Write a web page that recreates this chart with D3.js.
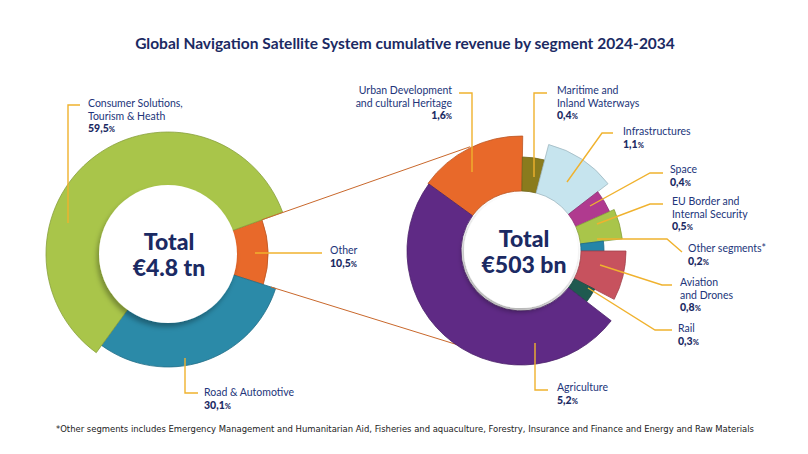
<!DOCTYPE html>
<html>
<head>
<meta charset="utf-8">
<script src="https://cdn.jsdelivr.net/npm/d3@7"></script>
<style>
  body { margin: 0; background: #fff; }
</style>
</head>
<body>
<div id="chart"></div>
<script>
// data
var mainSegments = ["Other", "Road & Automotive", "Consumer Solutions, Tourism & Heath"];
var mainShares = [10.5, 30.1, 59.5];

var otherSegments = ["Urban Development and cultural Heritage", "Maritime and Inland Waterways", "Infrastructures",
  "Space", "EU Border and Internal Security", "Other segments*", "Aviation and Drones", "Rail", "Agriculture"];
var otherShares = [1.6, 0.4, 1.1, 0.4, 0.5, 0.2, 0.8, 0.3, 5.2];

var mainTotal = "€4.8 tn";
var otherTotal = "€503 bn";

// styles
var width = 808;
var height = 454;
var navy = "#1b2a63";
var labelColor = "#22357a";
var leaderColor = "#f0b22e";
var linkColor = "#c9682c";
var font = "Lato, 'Noto Sans', sans-serif";

var mainColors = ["#e8692a", "#2b8aa8", "#a9c54a"];
var mainRadius = [100, 113, 122];
var otherColors = ["#e8692a", "#8a7b1d", "#c6e4ee", "#b03a8f", "#a9c54a", "#2585a9", "#c7525e", "#1f5a50", "#5f2a85"];
var otherRadius = [115, 94, 110, 97, 102, 83, 105, 83, 114];

var deg = Math.PI / 180;

var svg = d3.select("#chart")
  .append("svg")
  .attr("width", width)
  .attr("height", height);

var defs = svg.append("defs");
defs.append("filter")
  .attr("id", "shadow")
  .attr("x", "-30%").attr("y", "-30%")
  .attr("width", "160%").attr("height", "160%")
  .append("feDropShadow")
  .attr("dx", -2)
  .attr("dy", 4)
  .attr("stdDeviation", 2.5)
  .attr("flood-color", "#000")
  .attr("flood-opacity", 0.3);

//title
svg.append("text")
  .attr("x", 405)
  .attr("y", 49)
  .attr("text-anchor", "middle")
  .style("font-family", font)
  .style("font-weight", "bold")
  .style("font-size", "15.5px")
  .style("fill", navy)
  .text("Global Navigation Satellite System cumulative revenue by segment 2024-2034");

//footnote
svg.append("text")
  .attr("x", 405)
  .attr("y", 432)
  .attr("text-anchor", "middle")
  .style("font-family", "'Liberation Sans Narrow', 'DejaVu Sans Condensed', sans-serif")
  .style("font-size", "9.4px")
  .style("fill", "#222")
  .text("*Other segments includes Emergency Management and Humanitarian Aid, Fisheries and aquaculture, Forestry, Insurance and Finance and Energy and Raw Materials");

function donut(cx, cy, shares, colors, radius, inner, holeR, start, totalText, textDx) {
  var pie = d3.pie().sort(null).value(d => d)
    .startAngle(start * deg)
    .endAngle((start + 360) * deg);

  var arcs = pie(shares);

  var g = svg.append("g").attr("transform", "translate(" + cx + "," + cy + ")");

  g.selectAll("path.slice")
    .data(arcs)
    .enter()
    .append("path")
    .attr("class", "slice")
    .attr("fill", (d, i) => colors[i])
    .attr("stroke", (d, i) => d3.color(colors[i]).darker(0.6))
    .attr("stroke-width", 0.8)
    .attr("d", (d, i) => d3.arc().innerRadius(inner).outerRadius(radius[i])(d));

  g.append("circle")
    .attr("r", holeR)
    .attr("fill", "#fff")
    .attr("filter", "url(#shadow)");

  g.append("text")
    .attr("x", textDx)
    .attr("y", -4)
    .attr("text-anchor", "middle")
    .style("font-family", font)
    .style("font-weight", "900")
    .style("font-size", "23px")
    .style("fill", navy)
    .text("Total");

  g.append("text")
    .attr("x", textDx)
    .attr("y", 22)
    .attr("text-anchor", "middle")
    .style("font-family", font)
    .style("font-weight", "900")
    .style("font-size", "23px")
    .style("fill", navy)
    .text(totalText);

  return arcs;
}

var left = { x: 168, y: 254 };
var right = { x: 521, y: 251 };

var mainArcs = donut(left.x, left.y, mainShares, mainColors, mainRadius, 68, 69, 70, mainTotal, 1);

//zoom lines from "Other" slice to the breakdown donut
var o = mainArcs[0];
var p1 = d3.pointRadial(o.startAngle, mainRadius[0]);
var p2 = d3.pointRadial(o.endAngle, 108);
var q1 = d3.pointRadial(-26 * deg, 116);
var q2 = d3.pointRadial(207 * deg, 110);

svg.append("line")
  .attr("x1", left.x + p1[0]).attr("y1", left.y + p1[1])
  .attr("x2", right.x + q1[0]).attr("y2", right.y + q1[1])
  .style("stroke", linkColor)
  .style("stroke-width", 1);

svg.append("line")
  .attr("x1", left.x + p2[0]).attr("y1", left.y + p2[1])
  .attr("x2", right.x + q2[0]).attr("y2", right.y + q2[1])
  .style("stroke", linkColor)
  .style("stroke-width", 1);

var otherArcs = donut(right.x, right.y, otherShares, otherColors, otherRadius, 60, 57, -54, otherTotal, 3);

//labels: text lines, position, leader line
var labels = [
  { lines: ["Consumer Solutions,", "Tourism & Heath"], pct: mainShares[2], x: 88, y: 107, anchor: "start",
    leader: [[80, 105], [68, 105], [68, 223]] },
  { lines: ["Other"], pct: mainShares[0], x: 330, y: 254, anchor: "start",
    leader: [[255, 253], [322, 253]] },
  { lines: ["Road & Automotive"], pct: mainShares[1], x: 204, y: 396, anchor: "start",
    leader: [[185, 358], [185, 393], [198, 393]] },
  { lines: ["Urban Development", "and cultural Heritage"], pct: otherShares[0], x: 452, y: 94, anchor: "end",
    leader: [[459, 93], [472, 93], [472, 172]] },
  { lines: ["Maritime and", "Inland Waterways"], pct: otherShares[1], x: 557, y: 94, anchor: "start",
    leader: [[547, 93], [534, 93], [534, 177]] },
  { lines: ["Infrastructures"], pct: otherShares[2], x: 623, y: 135, anchor: "start",
    leader: [[613, 133], [602, 133], [567, 182]] },
  { lines: ["Space"], pct: otherShares[3], x: 670, y: 173, anchor: "start",
    leader: [[663, 173], [650, 173], [590, 206]] },
  { lines: ["EU Border and", "Internal Security"], pct: otherShares[4], x: 672, y: 205, anchor: "start",
    leader: [[663, 204], [650, 204], [597, 224]] },
  { lines: ["Other segments*"], pct: otherShares[5], x: 688, y: 252, anchor: "start",
    leader: [[597, 239], [667, 239], [682, 252]] },
  { lines: ["Aviation", "and Drones"], pct: otherShares[6], x: 680, y: 286, anchor: "start",
    leader: [[600, 265], [662, 285], [672, 285]] },
  { lines: ["Rail"], pct: otherShares[7], x: 678, y: 332, anchor: "start",
    leader: [[588, 288], [655, 330], [672, 330]] },
  { lines: ["Agriculture"], pct: otherShares[8], x: 557, y: 391, anchor: "start",
    leader: [[535, 343], [535, 390], [548, 390]] }
];

var lineH = 12.5;
var fmt = v => d3.format(".1f")(v).replace(".", ",");

labels.forEach(function(l) {
  svg.append("path")
    .attr("d", d3.line()(l.leader))
    .style("fill", "none")
    .style("stroke", leaderColor)
    .style("stroke-width", 1.4);

  l.lines.forEach(function(t, i) {
    svg.append("text")
      .attr("x", l.x)
      .attr("y", l.y + i * lineH)
      .attr("text-anchor", l.anchor)
      .style("font-family", font)
      .style("font-size", "10.5px")
      .style("fill", labelColor)
      .text(t);
  });

  var pt = svg.append("text")
    .attr("x", l.x)
    .attr("y", l.y + l.lines.length * lineH)
    .attr("text-anchor", l.anchor)
    .style("font-family", font)
    .style("font-weight", "900")
    .style("font-size", "10.5px")
    .style("fill", navy);
  pt.append("tspan").text(fmt(l.pct));
  pt.append("tspan").style("font-size", "7.5px").text("%");
});
</script>
</body>
</html>
